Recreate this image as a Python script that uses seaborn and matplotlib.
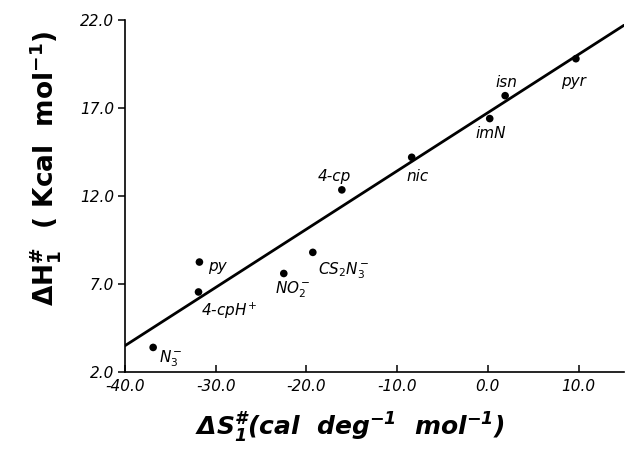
import matplotlib
matplotlib.use("Agg")
import matplotlib.pyplot as plt
import seaborn as sns
import pandas as pd
from matplotlib.ticker import FormatStrFormatter

# activation entropy (x) and enthalpy (y) for each entering ligand
LIGANDS = ["N3-", "py", "4-cpH+", "NO2-", "CS2N3-", "4-cp", "nic", "imN", "isn", "pyr"]
DELTA_S = [-36.9, -31.8, -31.9, -22.5, -19.3, -16.1, -8.4, 0.2, 1.9, 9.7]
DELTA_H = [3.4, 8.25, 6.55, 7.6, 8.8, 12.35, 14.2, 16.4, 17.7, 19.8]
LABELS = ["N$_3^-$", "py", "4-cpH$^+$", "NO$_2^-$", "CS$_2$N$_3^-$",
          "4-cp", "nic", "imN", "isn", "pyr"]

# straight line through the points, end points
FIT_S = [-40.0, 15.0]
FIT_H = [3.5, 21.7]

X_TICKS = [-40, -30, -20, -10, 0, 10]
Y_TICKS = [2, 7, 12, 17, 22]

# label offsets in pixels from each point
LABEL_OFFSETS = [(6, -11), (9, -4), (2, -19), (-9, -16), (5, -18),
                 (-24, 13), (-5, -19), (-14, -15), (-10, 13), (-15, -23)]

sns.set_style("ticks")
plt.rcParams["font.family"] = ["DejaVu Sans"]
plt.rcParams["text.color"] = "black"
plt.rcParams["xtick.color"] = "black"
plt.rcParams["ytick.color"] = "black"
plt.rcParams["axes.edgecolor"] = "black"
plt.rcParams["axes.labelcolor"] = "black"
plt.rcParams["mathtext.fontset"] = "custom"
plt.rcParams["mathtext.rm"] = "DejaVu Sans"
plt.rcParams["mathtext.it"] = "DejaVu Sans:italic"
plt.rcParams["mathtext.bf"] = "DejaVu Sans:bold"
plt.rcParams["mathtext.bfit"] = "DejaVu Sans:italic:bold"

df = pd.DataFrame({"dS": DELTA_S, "dH": DELTA_H, "ligand": LIGANDS})
fit = pd.DataFrame({"dS": FIT_S, "dH": FIT_H})

fig = plt.figure(figsize=(6.27, 4.51), dpi=100)
ax = fig.add_axes([0.1994, 0.175, 0.7958, 0.7807])

sns.lineplot(data=fit, x="dS", y="dH", color="black", linewidth=2.0, ax=ax)
sns.scatterplot(data=df, x="dS", y="dH", color="black", s=30,
                edgecolor="none", zorder=3, ax=ax)

for xs, ys, lab, (dx, dy) in zip(DELTA_S, DELTA_H, LABELS, LABEL_OFFSETS):
    ax.annotate(lab, (xs, ys), xytext=(dx, dy), textcoords="offset pixels",
                ha="left", va="center", fontsize=11, fontstyle="italic")

ax.set_xlim(-40, 15)
ax.set_ylim(2, 22)
ax.set_xticks(X_TICKS)
ax.set_yticks(Y_TICKS)
ax.xaxis.set_major_formatter(FormatStrFormatter("%.1f"))
ax.yaxis.set_major_formatter(FormatStrFormatter("%.1f"))
ax.tick_params(axis="x", direction="in", length=5, width=1.1, labelsize=11, pad=5)
ax.tick_params(axis="y", direction="out", length=5, width=1.1, labelsize=11, pad=3)
for lbl in ax.get_xticklabels() + ax.get_yticklabels():
    lbl.set_fontstyle("italic")

sns.despine(ax=ax)
ax.spines["left"].set_linewidth(1.2)
ax.spines["bottom"].set_linewidth(1.2)

ax.set_xlabel(r"$\mathbfit{\Delta S_1^{\#}}$(cal  deg$^{\mathbfit{-1}}$  mol$^{\mathbfit{-1}}$)",
              fontsize=18, fontweight="bold", fontstyle="italic")
ax.set_ylabel(r"$\mathbf{\Delta H_1^{\#}}$  ( Kcal  mol$^{\mathbf{-1}}$)",
              fontsize=19, fontweight="bold")
ax.xaxis.set_label_coords(0.45, -0.11)
ax.yaxis.set_label_coords(-0.125, 0.58)

fig.savefig("out.png", dpi=100, facecolor="white")
